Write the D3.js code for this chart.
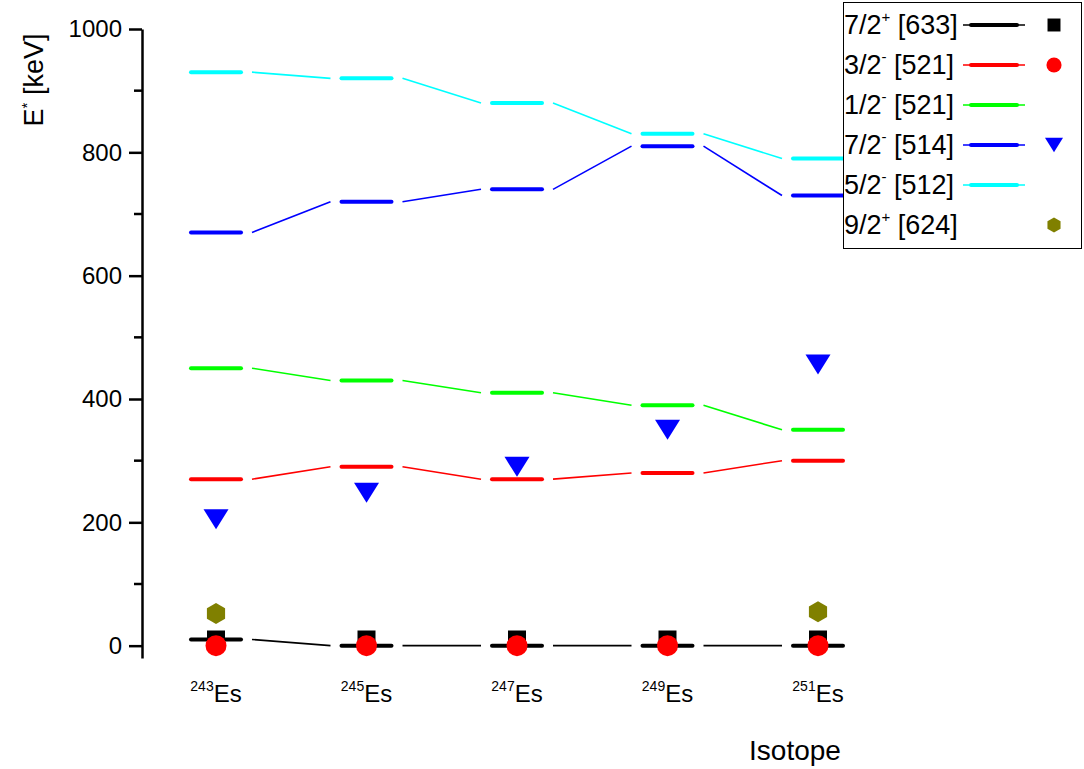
<!DOCTYPE html>
<html>
<head>
<meta charset="utf-8">
<script src="https://cdn.jsdelivr.net/npm/d3@7"></script>
<style>
  body { margin: 0; background: #fff; }
  svg { font-family: "Liberation Sans", Arial, sans-serif; }
</style>
</head>
<body>
<div id="chart"></div>
<script>
// isotopes along the x axis
const isotopes = ['243', '245', '247', '249', '251'];

// calculated levels (keV), one array per Nilsson orbital
const level633 = [10, 0, 0, 0, 0];
const level521a = [270, 290, 270, 280, 300];
const level521b = [450, 430, 410, 390, 350];
const level514 = [670, 720, 740, 810, 730];
const level512 = [930, 920, 880, 830, 790];

// experimental points
const exp633 = [10, 10, 10, 10, 10];
const exp521 = [0, 0, 0, 0, 0];
const exp514 = [205, 248, 290, 350, 456];
const exp624 = [52, null, null, null, 55];

const yTicks = [0, 200, 400, 600, 800, 1000];
const yMinor = [100, 300, 500, 700, 900];

const levels = [
  { name: '7/2', sup: '+', nils: '[633]', color: '#000000', values: level633, exp: exp633, symbol: 'square' },
  { name: '3/2', sup: '-', nils: '[521]', color: '#ff0000', values: level521a, exp: exp521, symbol: 'circle' },
  { name: '1/2', sup: '-', nils: '[521]', color: '#00ff00', values: level521b, exp: null, symbol: null },
  { name: '7/2', sup: '-', nils: '[514]', color: '#0000ff', values: level514, exp: exp514, symbol: 'triangle' },
  { name: '5/2', sup: '-', nils: '[512]', color: '#00ffff', values: level512, exp: null, symbol: null },
  { name: '9/2', sup: '+', nils: '[624]', color: '#808000', values: null, exp: exp624, symbol: 'hexagon' }
];

const width = 1084, height = 769;
const svg = d3.select('#chart').append('svg')
  .attr('width', width)
  .attr('height', height);

const x = d3.scalePoint().domain(isotopes).range([216, 818]);
const y = d3.scaleLinear().domain([-20, 1000]).range([658, 29]);

const halfBar = 25;
const gap = 11;

function drawMarker(g, type, cx, cy, color) {
  if (type === 'square') {
    g.append('rect').attr('x', cx - 9).attr('y', cy - 9).attr('width', 18).attr('height', 18).attr('fill', color);
  } else if (type === 'circle') {
    g.append('circle').attr('cx', cx).attr('cy', cy).attr('r', 10.5).attr('fill', color);
  } else if (type === 'triangle') {
    g.append('path').attr('d', `M${cx - 12.5},${cy - 10}L${cx + 12.5},${cy - 10}L${cx},${cy + 10}Z`).attr('fill', color);
  } else if (type === 'hexagon') {
    const pts = d3.range(6).map(i => {
      const a = Math.PI / 6 + i * Math.PI / 3;
      return [cx + 10.5 * Math.cos(a), cy + 10.5 * Math.sin(a)];
    });
    g.append('path').attr('d', 'M' + pts.join('L') + 'Z').attr('fill', color);
  }
}

// y axis
const yAxis = d3.axisLeft(y).tickValues(yTicks).tickFormat(d3.format('d'))
  .tickSizeInner(13).tickSizeOuter(0).tickPadding(7);
const ay = svg.append('g').attr('transform', 'translate(142,0)').call(yAxis);
ay.select('.domain').attr('stroke-width', 2.5);
ay.selectAll('.tick line').attr('stroke-width', 2.5);
ay.selectAll('.tick text').attr('font-size', 24).attr('fill', '#000')
  .attr('font-family', '"Liberation Sans", Arial, sans-serif');
svg.append('g').attr('transform', 'translate(142,0)')
  .selectAll('line').data(yMinor).join('line')
  .attr('x1', -8).attr('x2', 0)
  .attr('y1', d => y(d)).attr('y2', d => y(d))
  .attr('stroke', '#000').attr('stroke-width', 2.5);

// y title
const yt = svg.append('text')
  .attr('transform', 'translate(43,80) rotate(-90)')
  .attr('text-anchor', 'middle').attr('font-size', 27);
yt.append('tspan').text('E');
yt.append('tspan').attr('dy', -11).attr('font-size', 15).text('*');
yt.append('tspan').attr('dy', 11).text(' [keV]');

// x labels
const xl = svg.append('g').selectAll('text').data(isotopes).join('text')
  .attr('x', d => x(d)).attr('y', 702)
  .attr('text-anchor', 'middle').attr('font-size', 24);
xl.append('tspan').attr('dy', -11).attr('font-size', 14).text(d => d);
xl.append('tspan').attr('dy', 11).text('Es');

svg.append('text').attr('x', 795).attr('y', 760)
  .attr('text-anchor', 'middle').attr('font-size', 28).text('Isotope');

// levels and connectors
const plot = svg.append('g');
levels.filter(s => s.values).forEach(s => {
  const g = plot.append('g');
  s.values.forEach((v, i) => {
    const cx = x(isotopes[i]);
    g.append('line')
      .attr('x1', cx - halfBar).attr('x2', cx + halfBar)
      .attr('y1', y(v)).attr('y2', y(v))
      .attr('stroke', s.color).attr('stroke-width', 4).attr('stroke-linecap', 'round');
    if (i < s.values.length - 1) {
      const nx = x(isotopes[i + 1]);
      g.append('line')
        .attr('x1', cx + halfBar + gap).attr('x2', nx - halfBar - gap)
        .attr('y1', y(v)).attr('y2', y(s.values[i + 1]))
        .attr('stroke', s.color).attr('stroke-width', 1.6);
    }
  });
});

// experimental markers
levels.filter(s => s.exp).forEach(s => {
  const g = plot.append('g');
  s.exp.forEach((v, i) => {
    if (v === null) return;
    drawMarker(g, s.symbol, x(isotopes[i]), y(v), s.color);
  });
});

// legend
const lg = svg.append('g');
lg.append('rect').attr('x', 843.5).attr('y', 2.5).attr('width', 238).attr('height', 246)
  .attr('fill', '#fff').attr('stroke', '#000').attr('stroke-width', 1);
levels.forEach((s, i) => {
  const cy = 25 + i * 40;
  const t = lg.append('text').attr('x', 844).attr('y', cy + 9).attr('font-size', 27);
  t.append('tspan').text(s.name);
  t.append('tspan').attr('dy', -12).attr('font-size', 15).text(s.sup);
  t.append('tspan').attr('dy', 12).text(' ' + s.nils);
  if (s.values) {
    lg.append('line').attr('x1', 963).attr('x2', 1025).attr('y1', cy).attr('y2', cy)
      .attr('stroke', s.color).attr('stroke-width', 1.6);
    lg.append('line').attr('x1', 971).attr('x2', 1017).attr('y1', cy).attr('y2', cy)
      .attr('stroke', s.color).attr('stroke-width', 4).attr('stroke-linecap', 'round');
  }
  if (s.symbol) {
    const mg = lg.append('g').attr('transform', `translate(1054,${cy}) scale(0.72)`);
    drawMarker(mg, s.symbol, 0, 0, s.color);
  }
});
</script>
</body>
</html>
